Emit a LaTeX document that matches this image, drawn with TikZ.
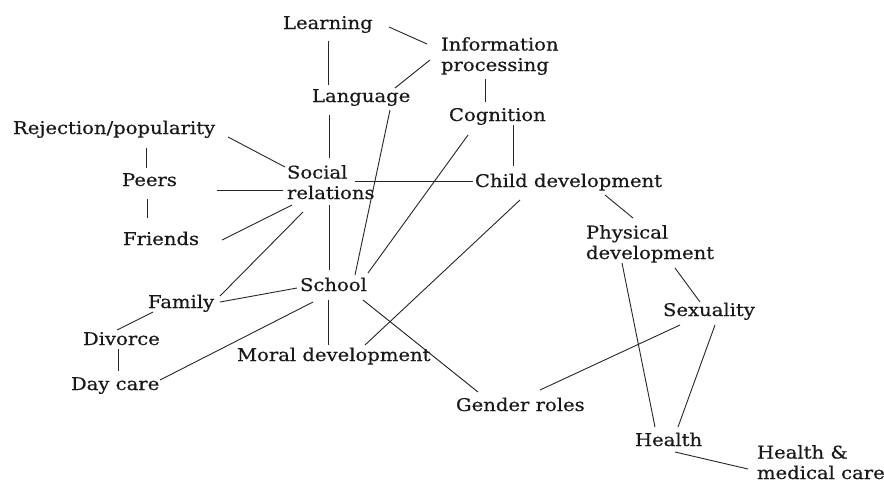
\documentclass[tikz,border=0pt]{standalone}
\usepackage{fontspec}
\setmainfont{DejaVu Serif}[FakeStretch=1.12, FakeBold=0.4]
\usetikzlibrary{calc}
\tikzset{
  lbl/.style={anchor=base west, inner sep=0pt, outer sep=0pt, font=\fontsize{17.5}{20.5}\selectfont, text=black!90},
  lbl2/.style={lbl, align=left},
  conn/.style={line width=0.9pt, draw=black!85}
}
\begin{document}
\begin{tikzpicture}[x=1pt,y=-1pt]
\useasboundingbox[fill=white] (0,0) rectangle (884,482);
% nodes (base west = left edge, last baseline)
\node[lbl]  (learn)   at (283,29)  {Learning};
\node[lbl2] (info)    at (441,71)  {Information\\processing};
\node[lbl]  (lang)    at (312,102) {Language};
\node[lbl]  (cog)     at (449,121) {Cognition};
\node[lbl]  (rej)     at (13,134)  {Rejection/popularity};
\node[lbl]  (peers)   at (122,186) {Peers};
\node[lbl2] (social)  at (287,199) {Social\\relations};
\node[lbl]  (friends) at (123,245) {Friends};
\node[lbl]  (child)   at (475,187) {Child development};
\node[lbl2] (phys)    at (586,259) {Physical\\development};
\node[lbl]  (school)  at (300,291) {School};
\node[lbl]  (family)  at (148,308) {Family};
\node[lbl]  (sex)     at (663,316) {Sexuality};
\node[lbl]  (divorce) at (83,345)  {Divorce};
\node[lbl]  (moral)   at (237,361) {Moral development};
\node[lbl]  (daycare) at (71,390)  {Day care};
\node[lbl]  (gender)  at (456,411) {Gender roles};
\node[lbl]  (health)  at (635,446) {Health};
\node[lbl2] (hmc)     at (757,479) {Health \&\\medical care};
% connectors
\draw[conn] ($(learn.base west)+(106,-2)$) -- ($(info.base west)+(-14,-27)$);
\draw[conn] ($(learn.base west)+(45,12)$) -- ($(lang.base west)+(16,-17)$);
\draw[conn] ($(lang.base west)+(83,-14)$) -- ($(info.base west)+(-11,-11)$);
\draw[conn] ($(lang.base west)+(17,13)$) -- ($(social.base west)+(42,-41)$);
\draw[conn] ($(info.base west)+(44,8)$) -- ($(cog.base west)+(36,-19)$);
\draw[conn] ($(cog.base west)+(64,4)$) -- ($(child.base west)+(38,-21)$);
\draw[conn] ($(rej.base west)+(215,3)$) -- ($(social.base west)+(-2,-32)$);
\draw[conn] ($(rej.base west)+(133,14)$) -- ($(peers.base west)+(24,-18)$);
\draw[conn] ($(peers.base west)+(95,4)$) -- ($(social.base west)+(-4,-9)$);
\draw[conn] ($(peers.base west)+(25,13)$) -- ($(friends.base west)+(24,-27)$);
\draw[conn] ($(social.base west)+(68,-18)$) -- ($(child.base west)+(-2,-6)$);
\draw[conn] ($(friends.base west)+(99,-5)$) -- ($(social.base west)+(5,6)$);
\draw[conn] ($(family.base west)+(72,-12)$) -- ($(social.base west)+(16,13)$);
\draw[conn] ($(social.base west)+(42,6)$) -- ($(school.base west)+(29,-21)$);
\draw[conn] ($(lang.base west)+(78,8)$) -- ($(school.base west)+(55,-16)$);
\draw[conn] ($(cog.base west)+(19,14)$) -- ($(school.base west)+(68,-18)$);
\draw[conn] ($(child.base west)+(45,13)$) -- ($(moral.base west)+(128,-16)$);
\draw[conn] ($(child.base west)+(130,8)$) -- ($(phys.base west)+(47,-41)$);
\draw[conn] ($(family.base west)+(72,-6)$) -- ($(school.base west)+(-3,-3)$);
\draw[conn] ($(family.base west)+(5,4)$) -- ($(divorce.base west)+(34,-15)$);
\draw[conn] ($(divorce.base west)+(35,4)$) -- ($(daycare.base west)+(47,-19)$);
\draw[conn] ($(daycare.base west)+(89,-10)$) -- ($(school.base west)+(13,11)$);
\draw[conn] ($(school.base west)+(28,9)$) -- ($(moral.base west)+(91,-16)$);
\draw[conn] ($(school.base west)+(63,9)$) -- ($(gender.base west)+(22,-19)$);
\draw[conn] ($(phys.base west)+(89,9)$) -- ($(sex.base west)+(37,-14)$);
\draw[conn] ($(phys.base west)+(36,4)$) -- ($(health.base west)+(20,-19)$);
\draw[conn] ($(sex.base west)+(17,9)$) -- ($(gender.base west)+(84,-21)$);
\draw[conn] ($(sex.base west)+(52,9)$) -- ($(health.base west)+(43,-19)$);
\draw[conn] ($(health.base west)+(40,6)$) -- ($(hmc.base west)+(-9,-10)$);
\end{tikzpicture}
\end{document}
